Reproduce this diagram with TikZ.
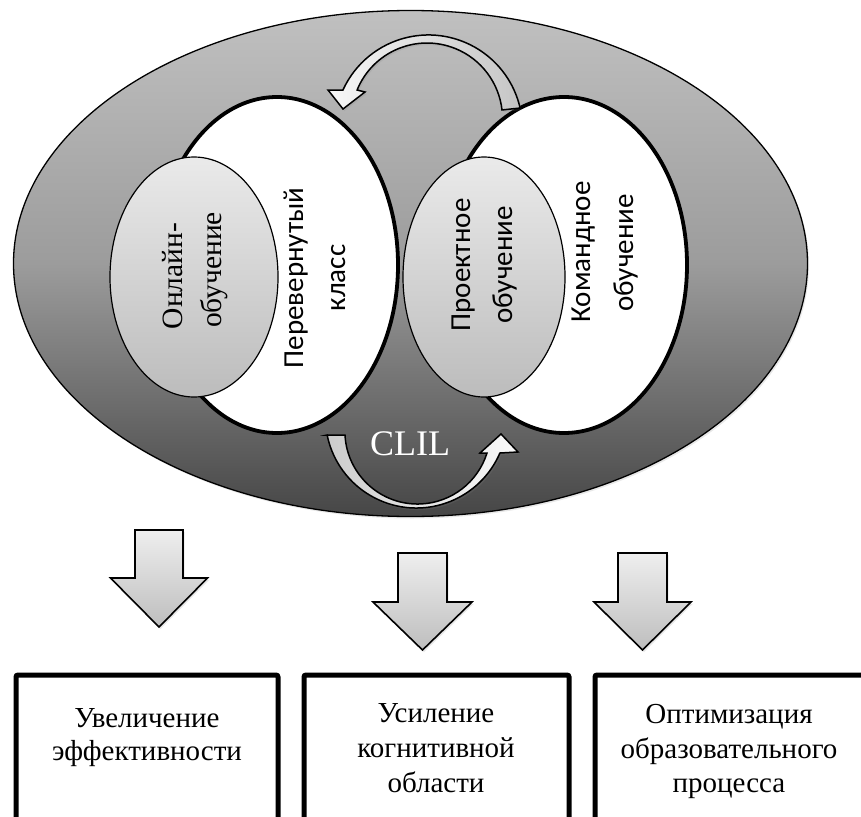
\documentclass[tikz,border=0pt]{standalone}
\usepackage{fontspec}
\setmainfont{Liberation Serif}
\newfontfamily\calibrifont{Carlito}
\usetikzlibrary{shadows}
\definecolor{bgtop}{RGB}{192,192,192}
\definecolor{bgmid}{RGB}{156,156,156}
\definecolor{bgbot}{RGB}{70,70,70}
\definecolor{gtop}{RGB}{234,234,234}
\definecolor{gbot}{RGB}{188,188,188}
\definecolor{atop}{RGB}{238,238,238}
\definecolor{abot}{RGB}{190,190,190}
\tikzset{
 softshadow/.style={drop shadow={opacity=0.18, shadow xshift=1.5pt, shadow yshift=-2pt}},
 bigoval/.style={draw=black, line width=1.3pt, top color=bgtop, bottom color=bgbot, middle color=bgmid},
 whiteoval/.style={draw=black, line width=3.8pt, fill=white},
 greyoval/.style={draw=black, line width=1.2pt, top color=gtop, bottom color=gbot},
 downarrow/.style={draw=black, line width=1.6pt, line join=miter, top color=atop, bottom color=abot},
 curvarrow/.style={draw=black, line width=1.5pt, line join=miter},
 resultbox/.style={draw=black, line width=5pt, rounded corners=2pt},
 sanslabel/.style={font=\calibrifont\fontsize{29}{35}\selectfont, rotate=90, anchor=base, inner sep=0pt},
 seriflabel/.style={font=\fontsize{29.5}{36}\selectfont, rotate=90, anchor=base, inner sep=0pt},
 boxlabel/.style={font=\fontsize{29}{35}\selectfont, anchor=base, inner sep=0pt},
}
\begin{document}
\begin{tikzpicture}[x=1pt,y=-1pt]
\useasboundingbox (0,0) rectangle (861,816);
\clip (0,0) rectangle (861,816);
\fill[white] (0,0) rectangle (861,816);

% big oval
\path[bigoval, softshadow] (410.5,263.5) ellipse [x radius=397, y radius=253];

% white ovals
\path[whiteoval] (277,265) ellipse [x radius=121, y radius=168];
\path[whiteoval] (564,265) ellipse [x radius=123, y radius=168];

% grey ovals
\path[greyoval] (194,277) ellipse [x radius=84, y radius=120];
\path[greyoval] (484,277) ellipse [x radius=81, y radius=120];

% top curved arrow
\path[curvarrow, left color=gray!6, right color=gray!45, softshadow]
  (520.1,108) arc[start angle=-12.9, end angle=-155.5, radius=94]
  -- (328,90) -- (343,109) -- (365,92) -- (357.1,90)
  arc[start angle=-157.8, end angle=-6.5, radius=75.5] -- cycle;

% bottom curved arrow (CLIL)
\path[curvarrow, left color=gray!40, right color=gray!4, softshadow]
  (327.1,435) -- (345,435)
  arc[start angle=177.1, end angle=17.4, radius=72.7]
  -- (480,453) -- (501,434) -- (518,452) -- (499.9,453)
  arc[start angle=23.3, end angle=168.6, radius=91] -- cycle;

% labels inside ovals
\node[seriflabel] (online1) at (182,276) {Онлайн-};
\node[seriflabel] (online2) at (221,270) {обучение};
\node[sanslabel] (flip1) at (303,278) {Перевернутый};
\node[sanslabel] (flip2) at (345,278) {класс};
\node[sanslabel] (proj1) at (470,265) {Проектное};
\node[sanslabel] (proj2) at (512,265) {обучение};
\node[sanslabel] (team1) at (590,252) {Командное};
\node[sanslabel] (team2) at (633,253) {обучение};
\node[font=\fontsize{36}{40}\selectfont, text=white, anchor=base, inner sep=0pt] (clil) at (410,455) {CLIL};

% down arrows
\path[downarrow, softshadow] (135,530) -- (183,530) -- (183,578) -- (207.5,578) -- (159,627) -- (110.5,578) -- (135,578) -- cycle;
\path[downarrow, softshadow] (398,553) -- (447,553) -- (447,602) -- (472,602) -- (422.5,650) -- (373,602) -- (398,602) -- cycle;
\path[downarrow, softshadow] (618,553) -- (667,553) -- (667,602) -- (691,602) -- (642.5,650) -- (594,602) -- (618,602) -- cycle;

% result boxes
\path[resultbox] (16,675) rectangle (278,830);
\path[resultbox] (304,675) rectangle (569,830);
\path[resultbox] (595,675) rectangle (868,830);

\node[boxlabel] (r1a) at (147,727) {Увеличение};
\node[boxlabel] (r1b) at (147,760) {эффективности};
\node[boxlabel] (r2a) at (436,722) {Усиление};
\node[boxlabel] (r2b) at (436,757) {когнитивной};
\node[boxlabel] (r2c) at (436,792) {области};
\node[boxlabel] (r3a) at (729,723) {Оптимизация};
\node[boxlabel] (r3b) at (729,758) {образовательного};
\node[boxlabel] (r3c) at (729,792) {процесса};
\end{tikzpicture}
\end{document}
